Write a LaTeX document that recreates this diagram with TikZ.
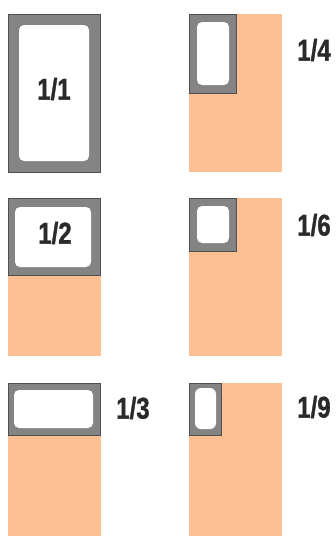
\documentclass[tikz,border=0pt]{standalone}
\usepackage{fontspec}
\newfontfamily\labelfont[FakeStretch=0.8,FakeBold=1.2]{Liberation Sans}
\definecolor{pan}{HTML}{848484}
\definecolor{panedge}{HTML}{505050}
\definecolor{gn}{HTML}{FDBF94}
\definecolor{txt}{HTML}{2A2A2A}
\tikzset{
  gnfill/.style={fill=gn},
  panbox/.style={fill=pan, draw=panedge, line width=1pt},
  well/.style={fill=white, rounded corners=5pt},
  lbl/.style={font=\labelfont\bfseries\fontsize{30}{30}\selectfont, text=txt, inner sep=0pt}
}
\begin{document}
\begin{tikzpicture}[x=1pt,y=-1pt]
\useasboundingbox (0,0) rectangle (336,536);
% 1/1
\draw[panbox] (8.5,14.5) rectangle (100.5,172);
\fill[well] (19,25) rectangle (89,161);
\node[lbl] (l11) at (54,89) {1/1};
% 1/4
\fill[gnfill] (189,14) rectangle (282,172);
\draw[panbox] (189.5,14.5) rectangle (236,93);
\fill[well] (197,22) rectangle (229,85);
\node[lbl] (l14) at (314,50) {1/4};
% 1/2
\fill[gnfill] (8,275) rectangle (101,356);
\draw[panbox] (8.5,198.5) rectangle (100.5,275);
\fill[well] (15,207) rectangle (91,267);
\node[lbl] (l12) at (55,233) {1/2};
% 1/6
\fill[gnfill] (189,198) rectangle (282,356);
\draw[panbox] (189.5,198.5) rectangle (236,251);
\fill[well] (197,206) rectangle (229,243);
\node[lbl] (l16) at (314,225) {1/6};
% 1/3
\fill[gnfill] (8,435) rectangle (101,536);
\draw[panbox] (8.5,383.5) rectangle (100.5,435);
\fill[well] (14,390) rectangle (93,428);
\node[lbl] (l13) at (133,408) {1/3};
% 1/9
\fill[gnfill] (189,383) rectangle (282,536);
\draw[panbox] (189.5,383.5) rectangle (221,435);
\fill[well, rounded corners=6pt] (195,388) rectangle (216,429);
\node[lbl] (l19) at (314,407) {1/9};
\end{tikzpicture}
\end{document}
